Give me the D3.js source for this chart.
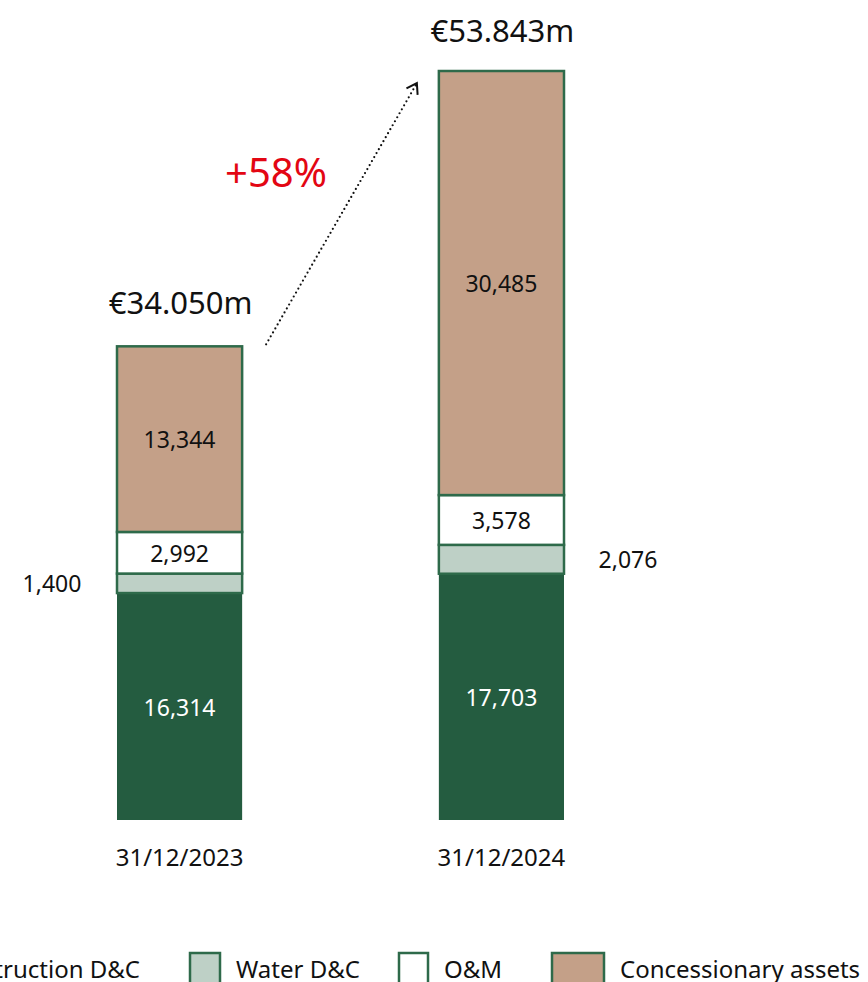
<!DOCTYPE html>
<html>
<head>
<meta charset="utf-8">
<script src="https://cdn.jsdelivr.net/npm/d3@7"></script>
<style>
  body { margin: 0; background: #fff; }
  svg { display: block; font-family: "Noto Sans", "Open Sans", sans-serif; }
</style>
</head>
<body>
<div class="chart"></div>
<script>

// data

const dates = ["31/12/2023", "31/12/2024"];
const series = ["Construction D&C", "Water D&C", "O&M", "Concessionary assets"];
const construction = [16314, 17703];
const water = [1400, 2076];
const om = [2992, 3578];
const concessionary = [13344, 30485];
const totals = ["€34.050m", "€53.843m"];
const growth = "+58%";

// svg container size
const width = 868,
      height = 982;

const svg = d3.select(".chart")
              .append("svg")
              .attr("width", width)
              .attr("height", height);

// colours for each series
const fills = {
  "Construction D&C": "#245c40",
  "Water D&C": "#bed0c6",
  "O&M": "#ffffff",
  "Concessionary assets": "#c4a088"
};
const edge = "#2e6a4a";

// rows for the stack
const rows = dates.map((d, i) => ({
  date: d,
  "Construction D&C": construction[i],
  "Water D&C": water[i],
  "O&M": om[i],
  "Concessionary assets": concessionary[i]
}));

const stack = d3.stack().keys(series)(rows);

// scales
const x = d3.scaleBand()
            .domain(dates)
            .range([116, 565])
            .paddingInner(0.605)
            .paddingOuter(0);

const y = d3.scaleLinear()
            .domain([0, d3.max(rows, r => d3.sum(series, k => r[k]))])
            .range([820, 71]);

// bars
const layer = svg.append("g")
                 .selectAll("g")
                 .data(stack)
                 .enter()
                   .append("g")
                   .attr("fill", d => fills[d.key]);

layer.selectAll("rect")
     .data(d => d.map(p => ({ key: d.key, p: p })))
     .enter()
       .append("rect")
       .attr("x", d => x(d.p.data.date) + 1)
       .attr("width", x.bandwidth() - 2)
       .attr("y", d => y(d.p[1]))
       .attr("height", d => y(d.p[0]) - y(d.p[1]))
       .attr("stroke", d => d.key === "Construction D&C" ? "none" : edge)
       .attr("stroke-width", 2.5);

// labels inside segments (water sits outside the bars)
const labels = [];
stack.forEach(s => {
  s.forEach((p, i) => {
    labels.push({ key: s.key, i: i, v: p[1] - p[0], mid: y((p[0] + p[1]) / 2) });
  });
});

svg.append("g")
   .selectAll("text")
   .data(labels)
   .enter()
     .append("text")
     .attr("x", d => {
        if (d.key !== "Water D&C") return x(dates[d.i]) + x.bandwidth() / 2;
        return d.i === 0 ? x(dates[0]) - 64 : x(dates[1]) + x.bandwidth() + 63;
     })
     .attr("y", d => d.mid + 1)
     .attr("dy", "0.35em")
     .attr("text-anchor", "middle")
     .attr("font-size", 23)
     .attr("fill", d => d.key === "Construction D&C" ? "#fff" : "#111")
     .text(d => d3.format(",")(d.v));

// totals above bars
svg.append("g")
   .selectAll("text")
   .data(rows)
   .enter()
     .append("text")
     .attr("x", d => x(d.date) + x.bandwidth() / 2 + 1)
     .attr("y", (d, i) => y(d3.sum(series, k => d[k])) - (i === 0 ? 32 : 29))
     .attr("text-anchor", "middle")
     .attr("font-size", 31)
     .attr("fill", "#111")
     .text((d, i) => totals[i]);

// dates under bars
svg.append("g")
   .selectAll("text")
   .data(dates)
   .enter()
     .append("text")
     .attr("x", d => x(d) + x.bandwidth() / 2)
     .attr("y", 866)
     .attr("text-anchor", "middle")
     .attr("font-size", 24)
     .attr("fill", "#111")
     .text(d => d);

// dotted growth arrow
const x0 = x(dates[0]) + x.bandwidth() + 23,
      y0 = y(d3.sum(series, k => rows[0][k])) - 2,
      x1 = x(dates[1]) - 22,
      y1 = 85;

svg.append("line")
   .attr("x1", x0).attr("y1", y0)
   .attr("x2", x1).attr("y2", y1)
   .attr("stroke", "#111")
   .attr("stroke-width", 2.2)
   .attr("stroke-linecap", "round")
   .attr("stroke-dasharray", "0 4.6");

const ang = Math.atan2(y1 - y0, x1 - x0);
const head = 10;
svg.append("path")
   .attr("d", d3.line()([
      [x1 - head * Math.cos(ang - 0.7), y1 - head * Math.sin(ang - 0.7)],
      [x1 + 1, y1 - 2],
      [x1 - head * Math.cos(ang + 0.7), y1 - head * Math.sin(ang + 0.7)]
   ]))
   .attr("fill", "none")
   .attr("stroke", "#111")
   .attr("stroke-width", 2);

svg.append("text")
   .attr("x", 276)
   .attr("y", 187)
   .attr("text-anchor", "middle")
   .attr("font-size", 40)
   .attr("fill", "#e30613")
   .text(growth);

// legend (first item runs off the left edge)
const legendX = [-70, 190, 399, 552];
const swatchW = [30, 30, 29, 52];
const legend = svg.append("g")
                  .selectAll("g")
                  .data(series)
                  .enter()
                    .append("g")
                    .attr("transform", (d, i) => `translate(${legendX[i]},953)`);

legend.append("rect")
      .attr("width", (d, i) => swatchW[i])
      .attr("height", 40)
      .attr("fill", d => fills[d])
      .attr("stroke", edge)
      .attr("stroke-width", 2.5);

legend.append("text")
      .attr("x", (d, i) => i === 0 ? 210 : swatchW[i] + 16)
      .attr("y", 25)
      .attr("text-anchor", (d, i) => i === 0 ? "end" : "start")
      .attr("font-size", 24)
      .attr("fill", "#111")
      .text(d => d);

</script>
</body>
</html>
